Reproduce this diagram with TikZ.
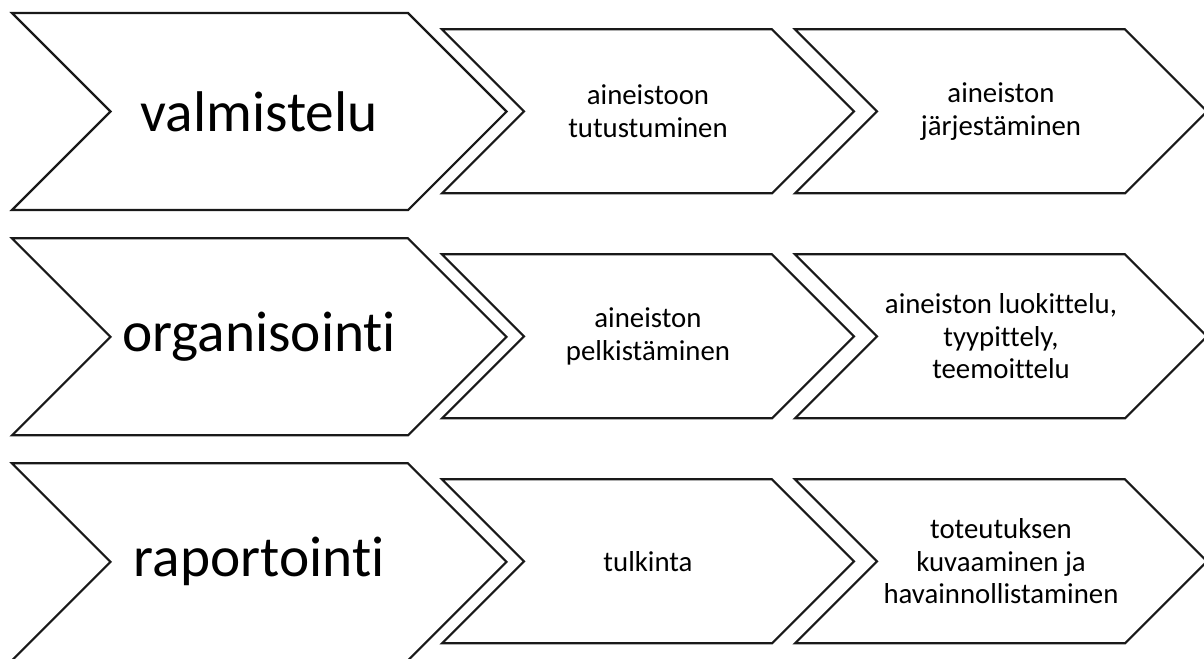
\documentclass[tikz,border=0pt]{standalone}
\usepackage{fontspec}
\setmainfont{Carlito}[Ligatures={NoCommon,NoContextual}]

\tikzset{
  chevron/.style={draw=black!90, line width=1.6pt, line join=miter, fill=white},
  phase/.style={font=\fontsize{43}{52}\selectfont, inner sep=0pt},
  task/.style={font=\fontsize{21.6}{24.5}\selectfont, align=center, inner sep=0pt},
}

% #1 name, #2 left, #3 top, #4 body width, #5 height, #6 text style, #7 text
\newcommand{\chevronbox}[7]{%
  \draw[chevron] (#2,#3) -- ++(#4,0) -- ++(#5/2,#5/2) -- ++(-#5/2,#5/2)
    -- ++(-#4,0) -- ++(#5/2,-#5/2) -- cycle;
  \node[#6] (#1) at ({#2+#5/4+#4/2},{#3+#5/2}) {#7};
}

\begin{document}
\begin{tikzpicture}[x=0.75pt, y=-0.75pt]
\useasboundingbox (0,0) rectangle (1204,658);

% valmistelu
\chevronbox{prep}{12}{13}{396}{197}{phase}{valmistelu}
\chevronbox{prepA}{442}{29.3}{330}{164}{task}{aineistoon\\tutustuminen}
\chevronbox{prepB}{795}{29.3}{330}{164}{task}{aineiston\\järjestäminen}

% organisointi
\chevronbox{org}{12}{238.3}{396}{197}{phase}{organisointi}
\chevronbox{orgA}{442}{254.3}{330}{164}{task}{aineiston\\pelkistäminen}
\chevronbox{orgB}{795}{254.3}{330}{164}{task}{aineiston luokittelu,\\tyypittely,\\teemoittelu}

% raportointi
\chevronbox{rep}{12}{463.3}{396}{197}{phase}{raportointi}
\chevronbox{repA}{442}{479.3}{330}{164}{task}{tulkinta}
\chevronbox{repB}{795}{479.3}{330}{164}{task}{toteutuksen\\kuvaaminen ja\\havainnollistaminen}

\end{tikzpicture}
\end{document}
